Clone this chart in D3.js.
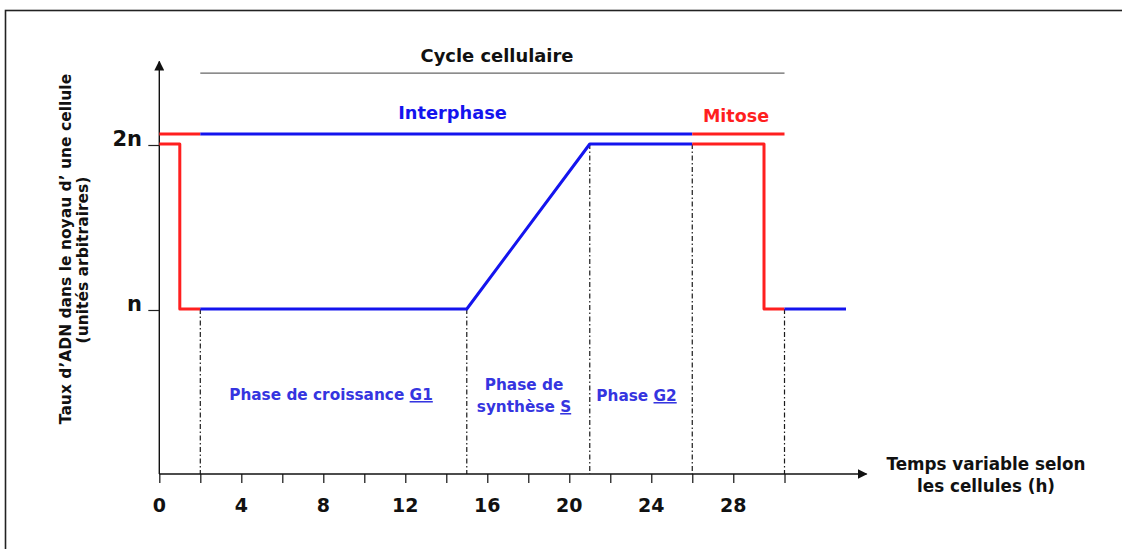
<!DOCTYPE html>
<html>
<head>
<meta charset="utf-8">
<script src="https://cdn.jsdelivr.net/npm/d3@7"></script>
<style>
  html, body { margin: 0; padding: 0; background: #fff; }
  svg { display: block; }
  text { font-family: "DejaVu Sans", Verdana, sans-serif; font-weight: bold; }
</style>
</head>
<body>
<svg id="chart" width="1122" height="549"></svg>
<script>
// axis ticks (hours) and labels
var tickHours = [0, 2, 4, 6, 8, 10, 12, 14, 16, 18, 20, 22, 24, 26, 28, 30.5];
var tickLabels = [0, 4, 8, 12, 16, 20, 24, 28];
var levelValues = [1, 2];
var levelLabels = ['n', '2n'];

// DNA quantity curve, by pieces (hour, level)
var mitoseStart = [[0, 2], [1, 2], [1, 1], [2, 1]];
var interphaseCurve = [[2, 1], [15, 1], [21, 2], [26, 2]];
var mitoseEnd = [[26, 2], [29.5, 2], [29.5, 1], [30.5, 1]];
var nextCycle = [[30.5, 1], [33.5, 1]];

// phase bars above the curve
var barLevel = 2.06;
var cycleLevel = 2.43;
var cycleSpan = [2, 30.5];
var mitoseBar1 = [0, 2];
var interphaseBar = [2, 26];
var mitoseBar2 = [26, 30.5];

// dashed phase boundaries: [hour, level where it starts]
var boundaries = [[2, 1], [15, 1], [21, 2], [26, 2], [30.5, 1]];

var blue = '#1414ee';
var red = '#ff1f1f';
var labelBlue = '#3535e0';

var svg = d3.select('#chart');

// frame
svg.append('rect')
  .attr('x', 5.5).attr('y', 10.5)
  .attr('width', 1140).attr('height', 560)
  .attr('fill', 'none').attr('stroke', '#222').attr('stroke-width', 1.6);

var x = d3.scaleLinear().domain([0, 34.5]).range([159.3, 866.5]);
var y = d3.scaleLinear().domain([0, 2.5]).range([474, 61.5]);

var defs = svg.append('defs');
defs.append('marker')
  .attr('id', 'arrow')
  .attr('viewBox', '0 0 10 10')
  .attr('refX', 9).attr('refY', 5)
  .attr('markerWidth', 10).attr('markerHeight', 10)
  .attr('markerUnits', 'userSpaceOnUse')
  .attr('orient', 'auto')
  .append('path').attr('d', 'M0,0 L10,5 L0,10 Z').attr('fill', '#111');

// dashed boundaries
svg.append('g').selectAll('line').data(boundaries).enter().append('line')
  .attr('x1', function(d) { return x(d[0]); })
  .attr('x2', function(d) { return x(d[0]); })
  .attr('y1', function(d) { return y(d[1]); })
  .attr('y2', y(0))
  .attr('stroke', '#1a1a1a').attr('stroke-width', 1.2)
  .attr('stroke-dasharray', '5,2.5,1.5,2.5');

// x axis
var xAxis = d3.axisBottom(x).tickValues(tickHours).tickSize(9).tickFormat('');
var gx = svg.append('g').attr('transform', 'translate(0,' + y(0) + ')').call(xAxis);
gx.select('.domain').remove();
gx.selectAll('.tick line').attr('stroke', '#222').attr('stroke-width', 1.3);
svg.append('line')
  .attr('x1', x(0)).attr('x2', x(34.5))
  .attr('y1', y(0)).attr('y2', y(0))
  .attr('stroke', '#111').attr('stroke-width', 1.4)
  .attr('marker-end', 'url(#arrow)');

svg.append('g').selectAll('text').data(tickLabels).enter().append('text')
  .attr('x', function(d) { return x(d); })
  .attr('y', 512)
  .attr('text-anchor', 'middle')
  .attr('font-size', 19)
  .attr('fill', '#111')
  .text(function(d) { return d; });

// y axis
svg.append('line')
  .attr('x1', x(0)).attr('x2', x(0))
  .attr('y1', y(0)).attr('y2', y(2.5))
  .attr('stroke', '#111').attr('stroke-width', 1.4)
  .attr('marker-end', 'url(#arrow)');

var yAxis = d3.axisLeft(y).tickValues(levelValues).tickSize(11).tickFormat('');
var gy = svg.append('g').attr('transform', 'translate(' + x(0) + ',1)').call(yAxis);
gy.select('.domain').remove();
gy.selectAll('.tick line').attr('stroke', '#222').attr('stroke-width', 1.2);

svg.append('g').selectAll('text').data(levelValues).enter().append('text')
  .attr('x', 142)
  .attr('y', function(d) { return y(d) + 1.5; })
  .attr('text-anchor', 'end')
  .attr('font-size', 21)
  .attr('fill', '#111')
  .text(function(d, i) { return levelLabels[i]; });

// y axis title
var yTitle = svg.append('text')
  .attr('transform', 'translate(71,249) rotate(-90)')
  .attr('text-anchor', 'middle')
  .attr('font-size', 15.5)
  .attr('fill', '#111');
yTitle.append('tspan').attr('x', 0).attr('y', 0).text('Taux d\u2019ADN dans le noyau d\u2019 une cellule');
yTitle.append('tspan').attr('x', -11).attr('y', 17).text('(unit\u00e9s arbitraires)');

// x axis title
var xTitle = svg.append('text')
  .attr('text-anchor', 'middle')
  .attr('font-size', 16.8)
  .attr('fill', '#111');
xTitle.append('tspan').attr('x', 986).attr('y', 470).text('Temps variable selon');
xTitle.append('tspan').attr('x', 986).attr('y', 492).text('les cellules (h)');

// cycle line + title
svg.append('line')
  .attr('x1', x(cycleSpan[0])).attr('x2', x(cycleSpan[1]))
  .attr('y1', y(cycleLevel)).attr('y2', y(cycleLevel))
  .attr('stroke', '#666').attr('stroke-width', 1.3);
svg.append('text')
  .attr('x', 497).attr('y', 62)
  .attr('text-anchor', 'middle')
  .attr('font-size', 17.9)
  .attr('fill', '#111')
  .text('Cycle cellulaire');

// phase bars
var bars = [
  {span: mitoseBar1, color: red},
  {span: interphaseBar, color: blue},
  {span: mitoseBar2, color: red}
];
svg.append('g').selectAll('line').data(bars).enter().append('line')
  .attr('x1', function(d) { return x(d.span[0]); })
  .attr('x2', function(d) { return x(d.span[1]); })
  .attr('y1', y(barLevel)).attr('y2', y(barLevel))
  .attr('stroke', function(d) { return d.color; })
  .attr('stroke-width', 3);

svg.append('text')
  .attr('x', 452.5).attr('y', 119)
  .attr('text-anchor', 'middle')
  .attr('font-size', 17.8)
  .attr('fill', blue)
  .text('Interphase');
svg.append('text')
  .attr('x', 736).attr('y', 122)
  .attr('text-anchor', 'middle')
  .attr('font-size', 17.5)
  .attr('fill', red)
  .text('Mitose');

// DNA curve
var line = d3.line()
  .x(function(d) { return x(d[0]); })
  .y(function(d) { return y(d[1]); });
var pieces = [
  {pts: mitoseStart, color: red},
  {pts: interphaseCurve, color: blue},
  {pts: mitoseEnd, color: red},
  {pts: nextCycle, color: blue}
];
svg.append('g').selectAll('path').data(pieces).enter().append('path')
  .attr('d', function(d) { return line(d.pts); })
  .attr('fill', 'none')
  .attr('stroke', function(d) { return d.color; })
  .attr('stroke-width', 3)
  .attr('stroke-linejoin', 'round');

// phase labels
function phaseLabel(cx, lines) {
  var t = svg.append('text')
    .attr('text-anchor', 'middle')
    .attr('font-size', 15.3)
    .attr('fill', labelBlue);
  lines.forEach(function(l) {
    var ts = t.append('tspan').attr('x', cx).attr('y', l.y);
    ts.append('tspan').text(l.text);
    if (l.under) {
      ts.append('tspan').attr('text-decoration', 'underline').text(l.under);
    }
  });
}
phaseLabel(331, [{y: 400, text: 'Phase de croissance ', under: 'G1'}]);
phaseLabel(524, [{y: 390, text: 'Phase de'}, {y: 412, text: 'synth\u00e8se ', under: 'S'}]);
phaseLabel(636.5, [{y: 401, text: 'Phase ', under: 'G2'}]);
</script>
</body>
</html>
